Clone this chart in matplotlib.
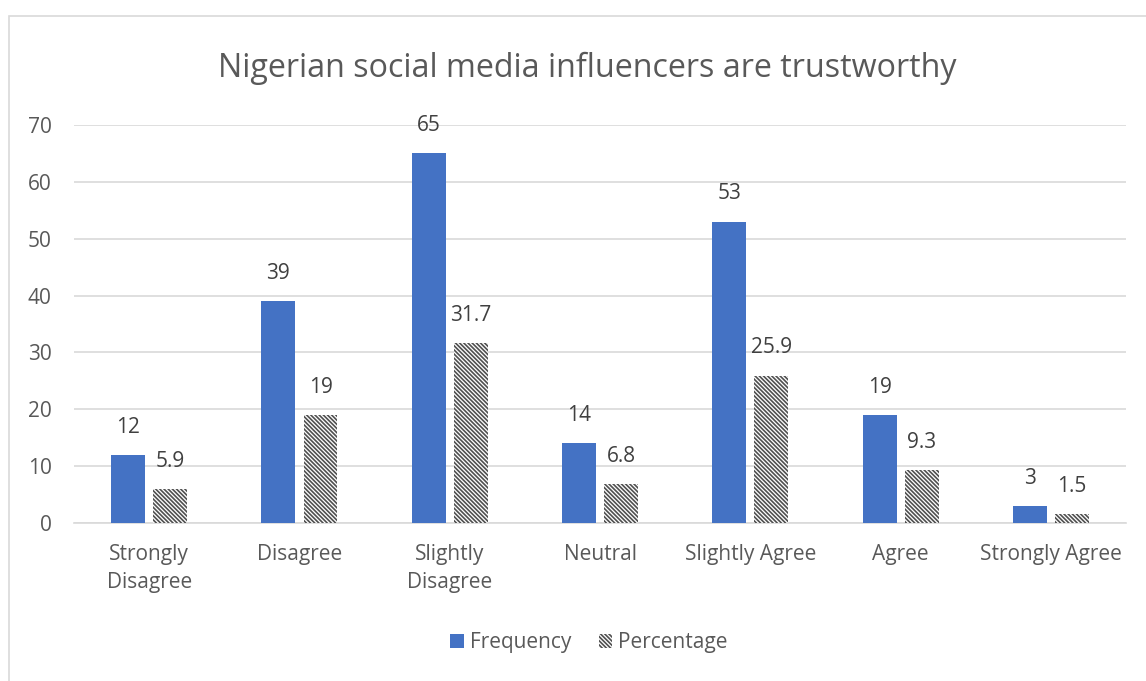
import numpy as np
import matplotlib.pyplot as plt
from matplotlib.patches import Rectangle, Patch

# survey responses
categories = ["Strongly\nDisagree", "Disagree", "Slightly\nDisagree", "Neutral",
              "Slightly Agree", "Agree", "Strongly Agree"]
frequency = [12, 39, 65, 14, 53, 19, 3]
percentage = [5.9, 19, 31.7, 6.8, 25.9, 9.3, 1.5]
yticks = [0, 10, 20, 30, 40, 50, 60, 70]

TEXT = "#595959"
HATCH = "\\" * 8
plt.rcParams['font.family'] = ['Open Sans', 'DejaVu Sans']
plt.rcParams['hatch.linewidth'] = 1.2

fig = plt.figure(figsize=(11.46, 6.81), dpi=100)
ax = fig.add_axes([0.0646, 0.232, 0.918, 0.5844])

x = np.arange(len(categories))
w = 0.226
off = 0.14
b1 = ax.bar(x - off, frequency, w, color="#4472c4", zorder=3)
b2 = ax.bar(x + off, percentage, w, color="white", edgecolor="#505050",
            linewidth=0, hatch=HATCH, zorder=3)

for bars, vals in ((b1, frequency), (b2, percentage)):
    for r, v in zip(bars, vals):
        ax.annotate(f"{v:g}", (r.get_x() + r.get_width() / 2, r.get_height()),
                    xytext=(0, 20), textcoords="offset points", ha="center",
                    va="center", fontsize=15, color="#404040")

ax.set_xlim(-0.5, len(categories) - 0.5)
ax.set_ylim(0, 70)
ax.set_yticks(yticks)
ax.set_xticks(x)
ax.set_xticklabels(categories, fontsize=15, color=TEXT, linespacing=1.42)
ax.tick_params(axis="y", length=0, pad=16, labelsize=15, labelcolor=TEXT)
ax.tick_params(axis="x", length=0, pad=15)
ax.grid(axis="y", color="#d9d9d9", linewidth=1.2, zorder=0)
for s in ("top", "right", "left"):
    ax.spines[s].set_visible(False)
ax.spines["bottom"].set_color("#d9d9d9")
ax.spines["bottom"].set_linewidth(1.2)

fig.text(0.512, 0.899, "Nigerian social media influencers are trustworthy",
         ha="center", va="center", fontsize=23.2, color=TEXT)

handles = [Patch(facecolor="#4472c4", label="Frequency"),
           Patch(facecolor="white", edgecolor="#505050", linewidth=0,
                 hatch=HATCH, label="Percentage")]
fig.legend(handles=handles, loc="center", bbox_to_anchor=(0.514, 0.056),
           ncol=2, frameon=False, fontsize=15, labelcolor=TEXT,
           handlelength=0.65, handleheight=0.65, handletextpad=0.3,
           columnspacing=1.3)

# chart border
fig.patches.append(Rectangle((9 / 1146, -0.05), 1.1, 1 - 16 / 681 + 0.05,
                             transform=fig.transFigure, fill=False,
                             edgecolor="#d9d9d9", linewidth=1.2))

fig.savefig("out.png", dpi=100)
